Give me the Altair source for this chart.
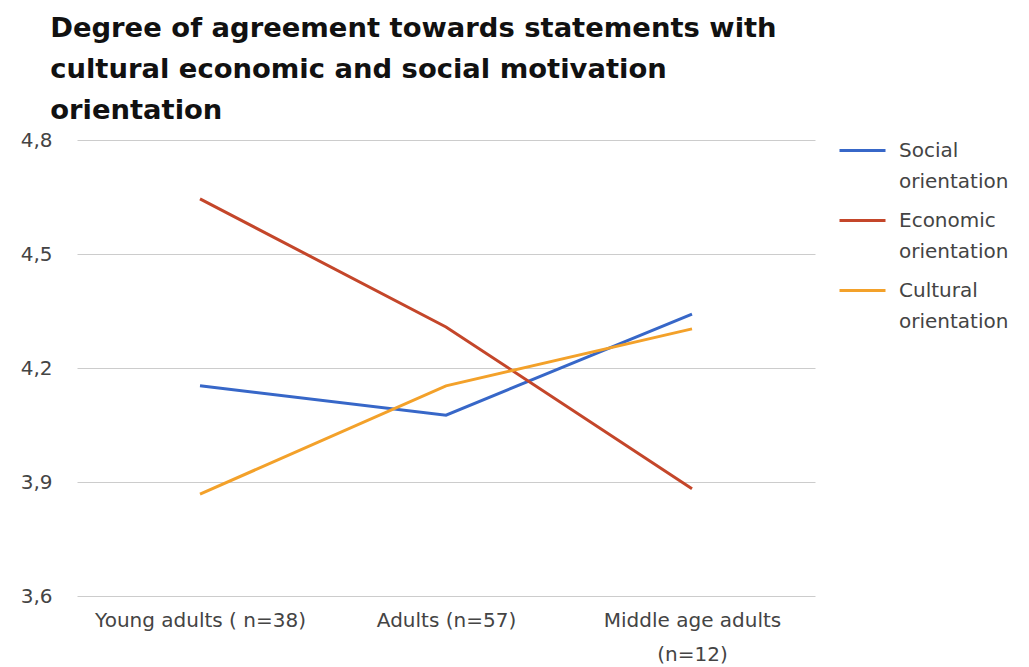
import altair as alt
import pandas as pd

groups = ["Young adults ( n=38)", "Adults (n=57)", "Middle age adults (n=12)"]
series = ["Social orientation", "Economic orientation", "Cultural orientation"]
social = [4.153, 4.076, 4.342]
economic = [4.645, 4.308, 3.882]
cultural = [3.868, 4.153, 4.303]
colors = ["#3767c8", "#c4462a", "#f3a12a"]
y_ticks = [3.6, 3.9, 4.2, 4.5, 4.8]

rows = []
for s, vals in zip(series, [social, economic, cultural]):
    for g, v in zip(groups, vals):
        rows.append({"group": g, "series": s, "value": v})
df = pd.DataFrame(rows)

FONT = "DejaVu Sans"

title = alt.TitleParams(
    text=["Degree of agreement towards statements with",
          "cultural economic and social motivation",
          "orientation"],
    font=FONT, fontSize=27.4, fontWeight="bold", color="#111111",
    anchor="start", dx=30, lineHeight=41, offset=2,
)

chart = alt.Chart(df, title=title).mark_line(strokeWidth=3).encode(
    x=alt.X("group:N", sort=groups, title=None,
            scale=alt.Scale(type="point", padding=0.5),
            axis=alt.Axis(labelAngle=0, labelFont=FONT, labelFontSize=20,
                          labelColor="#444444", ticks=False, domain=False,
                          labelPadding=14, grid=False, labelLimit=400,
                          labelLineHeight=34,
                          labelExpr="datum.value == 'Middle age adults (n=12)' ? ['Middle age adults', '(n=12)'] : datum.value")),
    y=alt.Y("value:Q", title=None,
            scale=alt.Scale(domain=[3.6, 4.8], nice=False, zero=False),
            axis=alt.Axis(values=y_ticks, labelFont=FONT, labelFontSize=20,
                          labelColor="#444444", ticks=False, domain=False,
                          labelPadding=25, gridColor="#cccccc", gridWidth=1,
                          labelExpr="replace(format(datum.value, '.1f'), '.', ',')")),
    color=alt.Color("series:N", sort=series,
                    scale=alt.Scale(domain=series, range=colors),
                    legend=alt.Legend(title=None, orient="none", legendX=761, legendY=-14,
                                      symbolType="stroke", symbolSize=2116,
                                      symbolStrokeWidth=3,
                                      labelFont=FONT, labelFontSize=20,
                                      labelColor="#444444",
                                      labelOffset=12, rowPadding=4, labelLimit=200,
                                      labelExpr="split(datum.label, ' ')")),
).properties(
    width=738, height=456,
    padding={"left": 77, "top": 140, "right": 214, "bottom": 71},
    autosize=alt.AutoSizeParams(type="none"),
).configure(
    view=alt.ViewConfig(stroke=None),
    style={"guide-label": {"lineHeight": 31}},
)

chart.save("out.html", embed_options={"renderer": "svg", "actions": False})
